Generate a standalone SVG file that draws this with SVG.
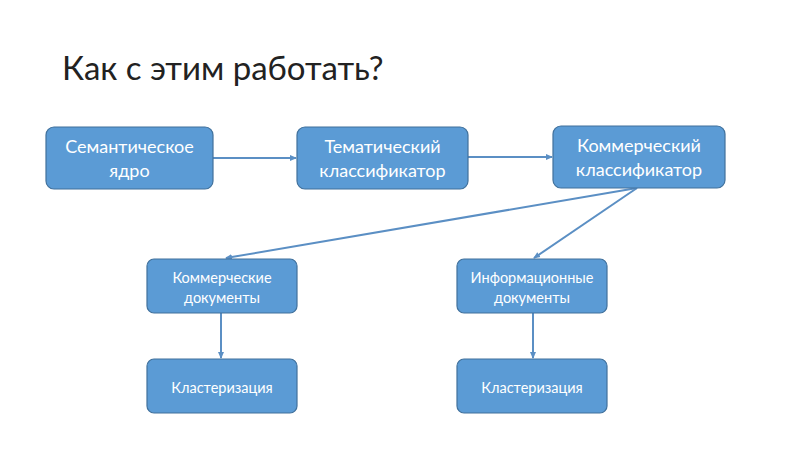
<svg xmlns="http://www.w3.org/2000/svg" width="800" height="449" viewBox="0 0 800 449">
<style>
.box{fill:#5b9bd5;stroke:#41719c;stroke-width:1.2}
.t{font-family:Lato,"Open Sans","Liberation Sans",sans-serif;fill:#fff;text-anchor:middle}
.big{font-size:18px}
.sm{font-size:14.5px}
.title{font-family:Lato,"Open Sans","Liberation Sans",sans-serif;font-size:33px;fill:#222}
.c{stroke:#5b8fc4;stroke-width:2;fill:none;marker-end:url(#ah)}
</style>
<defs>
<marker id="ah" markerWidth="8" markerHeight="8" refX="6" refY="4" orient="auto" markerUnits="userSpaceOnUse">
<path d="M0,1 L7,4 L0,7 z" fill="#5b8fc4"/>
</marker>
</defs>
<rect width="800" height="449" fill="#fff"/>
<text class="title" x="62" y="80">Как с этим работать?</text>
<g id="connectors">
<line class="c" x1="213" y1="158" x2="296" y2="158"/>
<line class="c" x1="468" y1="157" x2="552" y2="157"/>
<line class="c" x1="637" y1="188" x2="226" y2="258"/>
<line class="c" x1="637" y1="188" x2="534" y2="258"/>
<line class="c" x1="221" y1="313" x2="221" y2="358"/>
<line class="c" x1="533" y1="313" x2="533" y2="358"/>
</g>
<g id="n1"><rect class="box" x="46" y="127" width="167" height="62" rx="8"/>
<text class="t big" x="129.5" y="153">Семантическое</text><text class="t big" x="129.5" y="177">ядро</text></g>
<g id="n2"><rect class="box" x="297" y="127" width="171" height="62" rx="8"/>
<text class="t big" x="382.5" y="153">Тематический</text><text class="t big" x="382.5" y="177">классификатор</text></g>
<g id="n3"><rect class="box" x="553" y="126" width="172" height="62" rx="8"/>
<text class="t big" x="639" y="152">Коммерческий</text><text class="t big" x="639" y="176">классификатор</text></g>
<g id="n4"><rect class="box" x="147" y="259" width="150" height="54" rx="7"/>
<text class="t sm" x="222" y="283">Коммерческие</text><text class="t sm" x="222" y="303">документы</text></g>
<g id="n5"><rect class="box" x="457" y="259" width="150" height="54" rx="7"/>
<text class="t sm" x="532" y="283">Информационные</text><text class="t sm" x="532" y="303">документы</text></g>
<g id="n6"><rect class="box" x="147" y="359" width="150" height="54" rx="7"/>
<text class="t sm" x="222" y="393">Кластеризация</text></g>
<g id="n7"><rect class="box" x="457" y="359" width="150" height="54" rx="7"/>
<text class="t sm" x="532" y="393">Кластеризация</text></g>
</svg>
